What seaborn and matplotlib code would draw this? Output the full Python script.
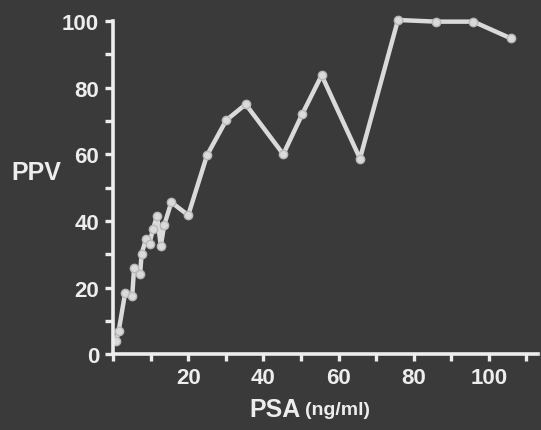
import numpy as np
import pandas as pd
import seaborn as sns
from matplotlib import pyplot as plt
from matplotlib.ticker import MultipleLocator

# values
psa = [0.8, 1.5, 3.2, 5.1, 5.6, 7.2, 7.6, 8.8, 9.7, 10.6, 11.7, 12.7, 13.6,
       15.5, 20.0, 25.0, 30.1, 35.3, 45.3, 50.4, 55.5, 65.7, 75.8, 86.0, 95.9, 105.8]
ppv = [4.0, 7.0, 18.3, 17.5, 26.0, 24.0, 30.2, 34.6, 33.2, 37.5, 41.5, 32.5, 38.7,
       45.6, 41.7, 59.7, 70.2, 75.0, 60.0, 72.2, 83.7, 58.7, 100.3, 99.8, 99.8, 94.8]
yticks = [0, 20, 40, 60, 80, 100]
xticks = [20, 40, 60, 80, 100]

df = pd.DataFrame({'PSA': psa, 'PPV': ppv})

bg = '#3a3a3a'
fg = '#ededed'

sns.set_theme(style='ticks')
plt.rcParams['font.family'] = ['Liberation Sans', 'DejaVu Sans']
plt.rcParams['font.weight'] = 'bold'

fig = plt.figure(figsize=(5.41, 4.31), dpi=100, facecolor=bg)
ax = fig.add_axes([0.209, 0.176, 0.785, 0.773], facecolor=bg)

sns.lineplot(data=df, x='PSA', y='PPV', ax=ax, color='#dadada', linewidth=3.2,
             marker='o', markersize=6, markeredgecolor='#b8b8b8',
             markeredgewidth=1, estimator=None, sort=False, clip_on=False)

ax.set_xlim(0, 113)
ax.set_ylim(0, 100)
ax.set_xticks(xticks)
ax.set_yticks(yticks)
ax.xaxis.set_minor_locator(MultipleLocator(10))
ax.yaxis.set_minor_locator(MultipleLocator(10))

sns.despine(ax=ax)
for s in ['left', 'bottom']:
    ax.spines[s].set_color(fg)
    ax.spines[s].set_linewidth(2.6)

ax.tick_params(which='both', direction='out', color=fg, width=2.4, length=6)
ax.tick_params(axis='x', which='both', length=5)
ax.tick_params(labelcolor=fg, labelsize=16, pad=4)
for lab in ax.get_xticklabels() + ax.get_yticklabels():
    lab.set_fontweight('bold')

ax.set_xlabel('')
ax.set_ylabel('PPV', rotation=0, fontsize=18, fontweight='bold', color=fg)
ax.yaxis.set_label_coords(-0.18, 0.51)
ax.text(0.381, -0.165, 'PSA', transform=ax.transAxes, ha='center', va='center',
        fontsize=18, fontweight='bold', color=fg)
ax.text(0.528, -0.165, '(ng/ml)', transform=ax.transAxes, ha='center', va='center',
        fontsize=14, fontweight='bold', color=fg)

fig.savefig('out.png', dpi=100, facecolor=bg)
